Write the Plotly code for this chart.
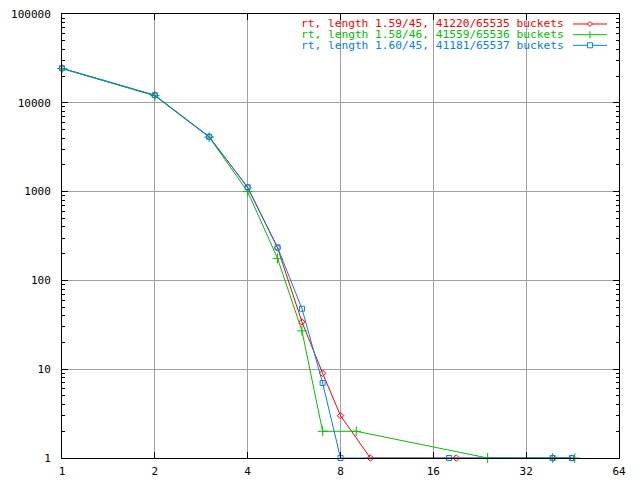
import plotly.graph_objects as go

# ---- data ----
len_a = [1, 2, 3, 4, 5, 6, 7, 8, 10, 19, 39, 45]
cnt_a = [24400, 12100, 4150, 1110, 232, 34, 9, 3, 1, 1, 1, 1]
len_b = [1, 2, 3, 4, 5, 6, 7, 9, 24, 39, 46]
cnt_b = [24300, 12000, 4100, 1000, 177, 27, 2, 2, 1, 1, 1]
len_c = [1, 2, 3, 4, 5, 6, 7, 8, 18, 39, 45]
cnt_c = [24500, 12200, 4150, 1120, 236, 48, 7, 1, 1, 1, 1]

names = ["rt, length 1.59/45, 41220/65535 buckets",
         "rt, length 1.58/46, 41559/65536 buckets",
         "rt, length 1.60/45, 41181/65537 buckets"]
colors = ["#ff0000", "#00c000", "#0080ff"]
symbols = ["diamond-open", "cross-thin-open", "square-open"]
sizes = [5, 7, 5]

x_ticks = [1, 2, 4, 8, 16, 32, 64]
y_ticks = [1, 10, 100, 1000, 10000, 100000]
y_minor = [m * 10 ** e for e in range(5) for m in range(2, 10)]

FONT = "DejaVu Sans Mono"
FS = 11
FS_KEY = 11.2

fig = go.Figure()
for xs, ys, c, s, sz, n in zip([len_a, len_b, len_c], [cnt_a, cnt_b, cnt_c],
                               colors, symbols, sizes, names):
    fig.add_trace(go.Scatter(
        x=xs, y=ys, mode="lines+markers", name=n, showlegend=False,
        line=dict(color=c, width=1),
        marker=dict(symbol=s, size=sz, color=c, line=dict(color=c, width=1)),
        cliponaxis=False))

# custom gnuplot-style key (text right-aligned, sample on the right)
shapes = [dict(type="rect", xref="paper", yref="paper", x0=0.40, x1=0.995,
               y0=0.915, y1=0.99, fillcolor="white", line=dict(width=0),
               layer="between")]
annotations = []
rows_y = [0.9775, 0.9534, 0.9295]
tx = 0.903
lx0, lx1, mx = 0.9174, 0.9785, 0.9479
for i, (n, c) in enumerate(zip(names, colors)):
    yy = rows_y[i]
    annotations.append(dict(text=n, x=tx, y=yy, xref="paper", yref="paper",
                            xanchor="right", yanchor="middle", showarrow=False,
                            borderpad=0,
                            font=dict(family=FONT, size=FS_KEY, color=c)))
    shapes.append(dict(type="line", xref="paper", yref="paper",
                       x0=lx0, x1=lx1, y0=yy, y1=yy,
                       line=dict(color=c, width=1), layer="above"))
    common = dict(xref="paper", yref="paper", xsizemode="pixel",
                  ysizemode="pixel", xanchor=mx, yanchor=yy, layer="above")
    if i == 0:
        shapes.append(dict(type="path", path="M0,2.5 L2.5,0 L0,-2.5 L-2.5,0 Z",
                           line=dict(color=c, width=1), fillcolor="white", **common))
    elif i == 1:
        shapes.append(dict(type="line", x0=0, x1=0, y0=-3.5, y1=3.5,
                           line=dict(color=c, width=1), **common))
    else:
        shapes.append(dict(type="rect", x0=-2.5, x1=2.5, y0=-2.5, y1=2.5,
                           line=dict(color=c, width=1), fillcolor="white", **common))

axis_common = dict(
    showline=True, linecolor="black", linewidth=1, mirror="ticks",
    ticks="inside", ticklen=6, tickcolor="black", tickwidth=1,
    showgrid=True, gridcolor="#a0a0a0", gridwidth=1, zeroline=False,
    automargin=False, ticklabeloverflow="allow",
    tickfont=dict(family=FONT, size=FS, color="black"),
)

# page body has an 8px margin: shrink the figure so the plot area lands
# where the reference has it (x 62..619, y 14..458)
fig.update_layout(
    width=632, height=472,
    margin=dict(l=54, r=21, t=6, b=22),
    paper_bgcolor="white", plot_bgcolor="white",
    showlegend=False,
    xaxis=dict(type="log", range=[0, 1.80618], tickvals=x_ticks,
               ticktext=[str(v) for v in x_ticks], ticklabelstandoff=3,
               **axis_common),
    yaxis=dict(type="log", range=[0, 5], tickvals=y_ticks,
               ticktext=[str(v) for v in y_ticks], ticklabelstandoff=8,
               minor=dict(tickvals=y_minor, ticks="inside", ticklen=3,
                          tickcolor="black", showgrid=False),
               **axis_common),
    shapes=shapes, annotations=annotations,
)

fig.write_html("out.html")
